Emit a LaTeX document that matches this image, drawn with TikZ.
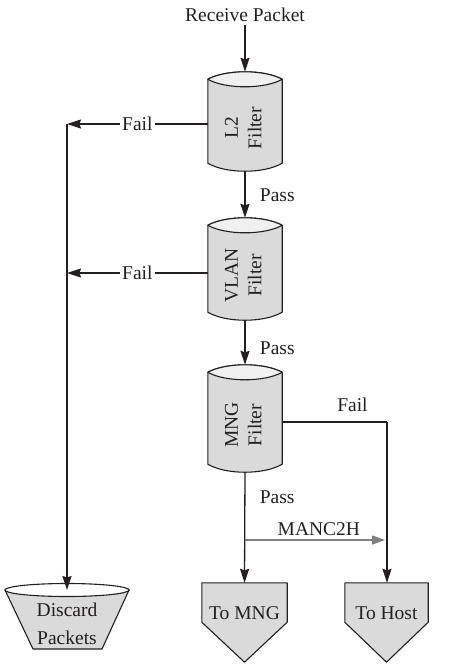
\documentclass[tikz,border=0pt]{standalone}
\usepackage{fontspec}
\setmainfont{Liberation Serif}
\usetikzlibrary{arrows.meta,calc,backgrounds}
\definecolor{ln}{HTML}{231F20}
\definecolor{bodygray}{HTML}{DADADA}
\definecolor{lensgray}{HTML}{F0F0F0}
\definecolor{arrgray}{HTML}{808080}
\tikzset{
  every node/.style={font=\fontsize{19.5}{23.5}\selectfont, text=ln},
  conn/.style={draw=ln, line width=1.3pt, -{Stealth[length=14pt,width=9pt,inset=1.5pt]}},
  plain/.style={draw=ln, line width=1.3pt},
  grayconn/.style={draw=arrgray, line width=1.3pt, -{Stealth[length=13pt,width=9pt,inset=0pt]}},
  cylbox/.style={draw=none, minimum width=74pt, inner sep=0pt},
  pentbox/.style={draw=none, minimum height=39pt, inner sep=0pt},
  shapefill/.style={fill=bodygray, draw=ln, line width=1.1pt, line join=round},
  lensfill/.style={fill=lensgray, draw=ln, line width=1.1pt, line join=round},
  faillbl/.style={fill=white, inner sep=2pt},
  passlbl/.style={right=11pt}
}
\newcommand\cylshape[1]{%
\begin{scope}[on background layer]
\path[shapefill] ($(#1.north west)+(0,7.5)$) .. controls ($(#1.north west)+(18,-2.5)$) and ($(#1.north east)+(-18,-2.5)$) .. ($(#1.north east)+(0,7.5)$) -- ($(#1.south east)+(0,-8)$) .. controls ($(#1.south east)+(-18,2.7)$) and ($(#1.south west)+(18,2.7)$) .. ($(#1.south west)+(0,-8)$) -- cycle;
\path[lensfill] ($(#1.north west)+(0,7.5)$) .. controls ($(#1.north west)+(18,-2.5)$) and ($(#1.north east)+(-18,-2.5)$) .. ($(#1.north east)+(0,7.5)$) .. controls ($(#1.north east)+(-18,17.5)$) and ($(#1.north west)+(18,17.5)$) .. ($(#1.north west)+(0,7.5)$) -- cycle;
\end{scope}}
\newcommand\pentshape[1]{%
\begin{scope}[on background layer]
\path[shapefill] (#1.north west) -- (#1.north east) -- (#1.south east) -- ($(#1.south)+(0,40)$) -- (#1.south west) -- cycle;
\end{scope}}
\newcommand\cyltext[2]{\rotatebox{90}{\begin{tabular}{@{}c@{}}#1\\#2\end{tabular}\hspace*{13pt}}}
\begin{document}
\begin{tikzpicture}[x=1pt,y=-1pt]
\useasboundingbox (0,0) rectangle (469,670);

% nodes
\node (rx) at (245,15) {Receive Packet};
\node[cylbox, minimum height=99pt] (l2) at (245,121.5) {\cyltext{L2}{Filter}};
\node[cylbox, minimum height=102pt] (vlan) at (245,269) {\cyltext{VLAN}{Filter}};
\node[cylbox, minimum height=107pt] (mng) at (245,418.5) {\cyltext{MNG}{Filter}};
\cylshape{l2}
\cylshape{vlan}
\cylshape{mng}

\node[pentbox, minimum width=85pt] (tomng) at (244.5,602.5) {\raisebox{-16.8pt}[0pt][0pt]{To MNG}};
\node[pentbox, minimum width=83pt] (tohost) at (386.5,602.5) {\raisebox{-16.8pt}[0pt][0pt]{To Host}};
\pentshape{tomng}
\pentshape{tohost}

% discard
\path[shapefill] (5,590) -- (129,590) -- (102,649) -- (33,649) -- cycle;
\path[draw=ln, fill=white, line width=1.1pt] (67,590) ellipse [x radius=62, y radius=6.5];
\node[font=\fontsize{19.5}{28}\selectfont, align=center, inner sep=0pt] (discard) at (67,624) {Discard\\Packets};
\coordinate (dtop) at (67,590);

% coordinates
\coordinate (f1) at (67,124);
\coordinate (f2) at (67,273);
\coordinate (fc) at (387,422);
\coordinate (m2h) at (245,540);

% connectors
\draw[conn] (rx.south) -- (l2.north);
\draw[conn] (l2.south) -- node[passlbl, pos=0.51]{Pass} (vlan.north);
\draw[conn] (vlan.south) -- node[passlbl, pos=0.62]{Pass} (mng.north);
\draw[conn] (mng.south) -- node[passlbl, pos=0.23]{Pass} (tomng.north);

\draw[conn] (l2.west |- f1) -- node[faillbl]{Fail} (f1);
\draw[conn] (vlan.west |- f2) -- node[faillbl]{Fail} (f2);
\draw[conn] (f1) -- (dtop);

\draw[plain] (mng.east |- fc) -- node[above=6.5pt, pos=0.67]{Fail} (fc);
\draw[conn] (fc) -- (fc |- tohost.north);

\draw[grayconn, shorten >=2pt] (m2h) -- node[above, pos=0.52]{MANC2H} (m2h -| fc);
\end{tikzpicture}
\end{document}
